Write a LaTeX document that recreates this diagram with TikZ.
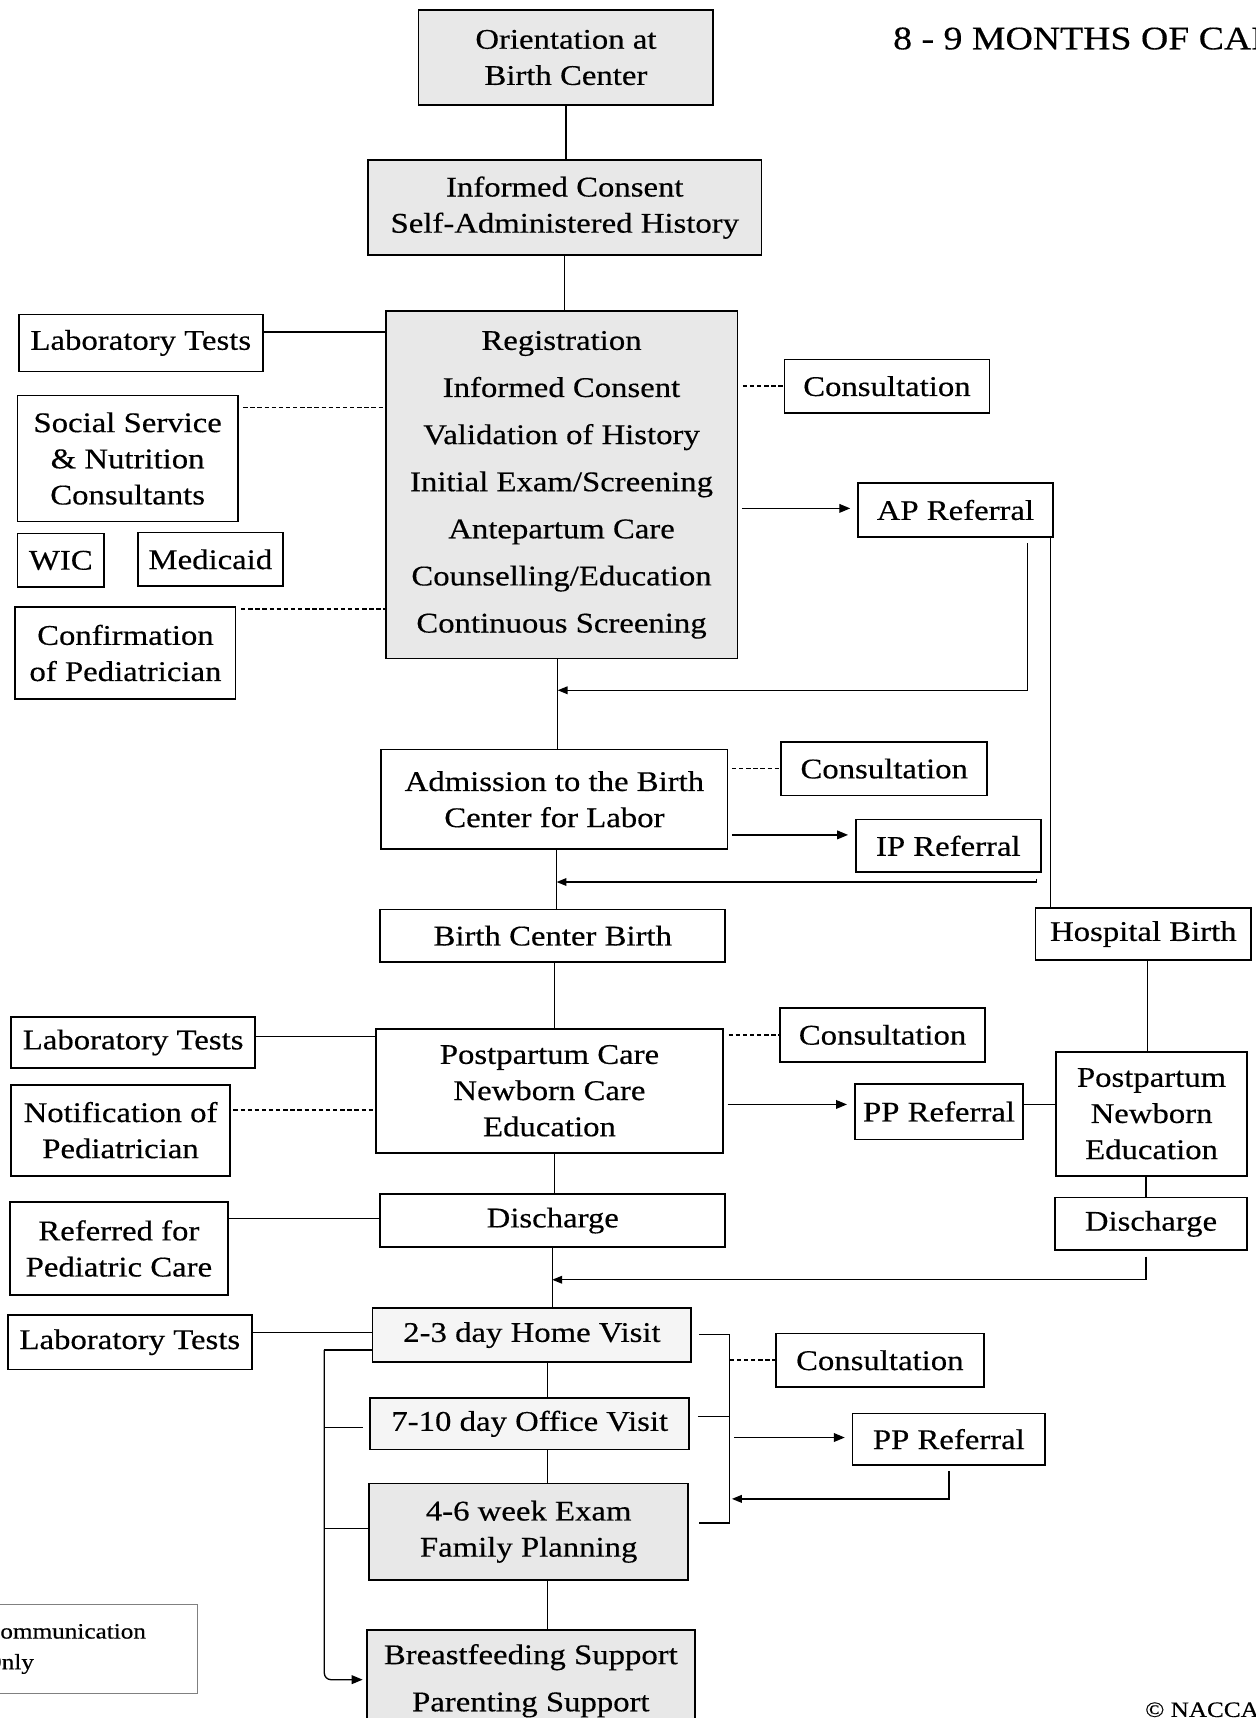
\documentclass[tikz,border=0pt]{standalone}
\usepackage{fontspec}
\setmainfont[FakeStretch=1.15,FakeBold=0.4]{Liberation Serif}
\usetikzlibrary{arrows.meta}
\newcommand\mkbox[7]{\node[#1, minimum width={(#5)-(#3)}, minimum height={(#6)-(#4)}] (#2) at ({((#3)+(#5))/2},{((#4)+(#6))/2}) {#7};}
\begin{document}
\begin{tikzpicture}[x=1pt,y=-1pt,
  box/.style={draw, line width=1.6pt, inner sep=2pt, outer sep=0pt, align=center, font=\fontsize{26}{33}\selectfont},
  grbox/.style={box, fill=black!9},
  lgbox/.style={box, fill=black!4},
  conn/.style={line width=1.2pt},
  dotconn/.style={line width=1.6pt, dash pattern=on 4pt off 2.5pt},
  arr/.style={conn, -{Triangle[length=10pt,width=8pt]}, shorten >=7pt, shorten <=4pt},
  back/.style={conn, -{Triangle[length=9pt,width=7pt]}, shorten <=6pt}]
\useasboundingbox (0,0) rectangle (1146,1568);
% title and credits
\node[anchor=base west, inner sep=0pt, font=\fontsize{30}{36}\selectfont] (title) at (815,45) {8 - 9 MONTHS OF CARE};
\node[anchor=base west, inner sep=0pt, font=\fontsize{20}{24}\selectfont] (copy) at (1045,1567) {\textcopyright\ NACCA};
\node[draw=black!50, line width=1pt, minimum width=240, minimum height=82, align=left, text width=150pt, font=\fontsize{20}{28}\selectfont] (legend) at (60,1505) {Communication\\Only};
% boxes
\mkbox{grbox}{orient}{382}{9}{651}{96}{Orientation at\\Birth Center}
\mkbox{grbox}{infc}{336}{146}{695}{233}{Informed Consent\\Self-Administered History}
\mkbox{grbox, font=\fontsize{26}{43}\selectfont}{reg}{352}{284}{673}{601}{Registration\\Informed Consent\\Validation of History\\Initial Exam/Screening\\Antepartum Care\\Counselling/Education\\Continuous Screening}
\mkbox{box}{lab1}{17}{287}{240}{339}{Laboratory Tests}
\mkbox{box}{soc}{16}{361}{217}{476}{Social Service\\\& Nutrition\\Consultants}
\mkbox{box}{wic}{16}{487}{95}{536}{WIC}
\mkbox{box}{medic}{126}{486}{258}{535}{Medicaid}
\mkbox{box}{conf}{14}{554}{215}{638}{Confirmation\\of Pediatrician}
\mkbox{box}{cons1}{716}{328}{903}{377}{Consultation}
\mkbox{box}{apref}{783}{441}{961}{490}{AP Referral}
\mkbox{box}{adm}{348}{684}{664}{775}{Admission to the Birth\\Center for Labor}
\mkbox{box}{cons2}{713}{677}{901}{726}{Consultation}
\mkbox{box}{ipref}{781}{748}{950}{796}{IP Referral}
\mkbox{box}{bcb}{347}{830}{662}{878}{Birth Center Birth}
\mkbox{box}{hosp}{945}{829}{1142}{876}{Hospital Birth}
\mkbox{box}{lab2}{10}{928}{233}{975}{Laboratory Tests}
\mkbox{box}{post}{343}{939}{660}{1052}{Postpartum Care\\Newborn Care\\Education}
\mkbox{box}{cons3}{712}{920}{899}{969}{Consultation}
\mkbox{box}{notif}{10}{990}{210}{1073}{Notification of\\Pediatrician}
\mkbox{box}{ppref1}{780}{989}{934}{1040}{PP Referral}
\mkbox{box}{pnb}{964}{960}{1138}{1073}{Postpartum\\Newborn\\Education}
\mkbox{box}{dis1}{347}{1090}{662}{1138}{Discharge}
\mkbox{box}{dis2}{963}{1093}{1138}{1141}{Discharge}
\mkbox{box}{refped}{9}{1097}{208}{1182}{Referred for\\Pediatric Care}
\mkbox{box}{lab3}{7}{1200}{230}{1250}{Laboratory Tests}
\mkbox{lgbox}{home}{340}{1194}{631}{1243}{2-3 day Home Visit}
\mkbox{box}{cons4}{708}{1217}{898}{1266}{Consultation}
\mkbox{lgbox}{office}{338}{1276}{629}{1323}{7-10 day Office Visit}
\mkbox{box}{ppref2}{778}{1290}{954}{1337}{PP Referral}
\mkbox{grbox}{exam}{337}{1354}{628}{1442}{4-6 week Exam\\Family Planning}
\mkbox{grbox, font=\fontsize{26}{43}\selectfont}{breast}{335}{1488}{634}{1580}{Breastfeeding Support\\Parenting Support}
% junctions
\coordinate (j1) at (509,630);
\coordinate (j2) at (508,805);
\coordinate (j3) at (504,1168);
\coordinate (lbt) at (296,1232);
\coordinate (lbb) at (296,1533);
\coordinate (rbt) at (666,1218);
\coordinate (rbb) at (666,1390);
% main spine
\draw[conn] (orient.south) -- (orient.south |- infc.north);
\draw[conn] (infc.south) -- (infc.south |- reg.north);
\draw[conn] (reg.south -| j1) -- (adm.north -| j1);
\draw[conn] (adm.south -| j2) -- (bcb.north -| j2);
\draw[conn] (bcb.south -| 506,0) -- (post.north -| 506,0);
\draw[conn] (post.south -| 506,0) -- (dis1.north -| 506,0);
\draw[conn] (dis1.south -| j3) -- (home.north -| j3);
\draw[conn] (home.south -| 500,0) -- (office.north -| 500,0);
\draw[conn] (office.south -| 500,0) -- (exam.north -| 500,0);
\draw[conn] (exam.south -| 500,0) -- (breast.north -| 500,0);
% left side
\draw[conn] (lab1.east |- 0,303) -- (reg.west |- 0,303);
\draw[dotconn, shorten <=5pt] (soc.east |- 0,372) -- (reg.west |- 0,372);
\draw[dotconn, shorten <=5pt] (conf.east |- 0,556) -- (reg.west |- 0,556);
\draw[conn] (lab2.east |- 0,946) -- (post.west |- 0,946);
\draw[dotconn, shorten <=3pt] (notif.east |- 0,1013) -- (post.west |- 0,1013);
\draw[conn] (refped.east |- 0,1112) -- (dis1.west |- 0,1112);
\draw[conn] (lab3.east |- 0,1216) -- (home.west |- 0,1216);
% right side
\draw[dotconn, shorten <=5pt] (reg.east |- cons1.west) -- (cons1.west);
\draw[arr] (reg.east |- 0,464) -- (apref.west |- 0,464);
\draw[back] (apref.south -| 938,0) |- (j1);
\draw[conn] (apref.south -| 959,0) -- (hosp.north -| 959,0);
\draw[dotconn, shorten <=4pt] (adm.east |- cons2.west) -- (cons2.west);
\draw[arr] (adm.east |- 0,762) -- (ipref.west |- 0,762);
\draw[back] (ipref.south -| 946,0) |- (j2);
\draw[conn] (hosp.south -| 1047,0) -- (pnb.north -| 1047,0);
\draw[dotconn, shorten <=5pt] (post.east |- cons3.west) -- (cons3.west);
\draw[arr] (post.east |- 0,1008) -- (ppref1.west |- 0,1008);
\draw[conn] (ppref1.east |- 0,1008) -- (pnb.west |- 0,1008);
\draw[conn] (pnb.south -| 1046,0) -- (dis2.north -| 1046,0);
\draw[back] (dis2.south -| 1046,0) |- (j3);
% left bracket
\draw[conn] (home.west |- lbt) -- (lbt);
\draw[conn, shorten <=7pt] (office.west |- 0,1303) -- (lbt |- 0,1303);
\draw[conn] (exam.west |- 0,1395) -- (lbt |- 0,1395);
\draw[conn, rounded corners=6pt, -{Triangle[length=10pt,width=8pt]}, shorten >=4pt] (lbt) -- (lbb) -- (breast.west |- lbb);
% right bracket
\draw[conn, shorten <=7pt] (home.east |- rbt) -- (rbt);
\draw[conn, shorten <=8pt] (office.east |- 0,1293) -- (rbt |- 0,1293);
\draw[conn, shorten <=10pt] (exam.east |- rbb) -- (rbb);
\draw[conn] (rbt) -- (rbb);
\draw[dotconn] (rbt |- cons4.west) -- (cons4.west);
\draw[arr] (rbt |- 0,1312) -- (ppref2.west |- 0,1312);
\draw[back, shorten >=2pt] (ppref2.south) |- (rbt |- 0,1368);
\end{tikzpicture}
\end{document}
